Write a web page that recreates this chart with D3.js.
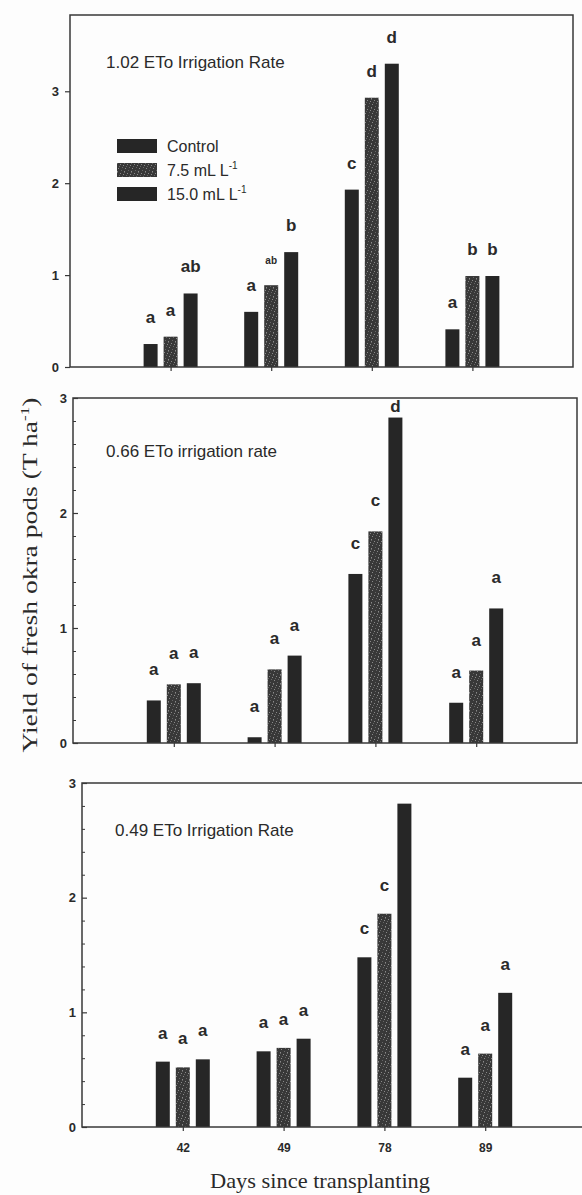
<!DOCTYPE html>
<html><head><meta charset="utf-8">
<script src="https://cdn.jsdelivr.net/npm/d3@7"></script>
<style>body{margin:0;background:#fdfdfd} svg{display:block}</style>
</head><body>
<script>
// ---------- data ----------
const days = ["42", "49", "78", "89"];
const series = ["Control", "7.5 mL L", "15.0 mL L"];
const seriesSup = ["", "-1", "-1"];
const panelTitles = ["1.02 ETo Irrigation Rate", "0.66 ETo irrigation rate", "0.49 ETo Irrigation Rate"];
const yTickValues = [0, 1, 2, 3];
const xTitle = "Days since transplanting";
const yTitle = "Yield of fresh okra pods (T ha";

// 1.02 ETo
const rate102Control = [0.25, 0.60, 1.93, 0.41];
const rate102Mid     = [0.33, 0.89, 2.93, 0.99];
const rate102High    = [0.80, 1.25, 3.30, 0.99];
const rate102Letters = [["a","a","ab"], ["a","ab","b"], ["c","d","d"], ["a","b","b"]];
// 0.66 ETo
const rate066Control = [0.37, 0.05, 1.47, 0.35];
const rate066Mid     = [0.51, 0.64, 1.84, 0.63];
const rate066High    = [0.52, 0.76, 2.83, 1.17];
const rate066Letters = [["a","a","a"], ["a","a","a"], ["c","c","d"], ["a","a","a"]];
// 0.49 ETo
const rate049Control = [0.57, 0.66, 1.48, 0.43];
const rate049Mid     = [0.52, 0.69, 1.86, 0.64];
const rate049High    = [0.59, 0.77, 2.82, 1.17];
const rate049Letters = [["a","a","a"], ["a","a","a"], ["c","c",""], ["a","a","a"]];

const panelValues = [
  [rate102Control, rate102Mid, rate102High],
  [rate066Control, rate066Mid, rate066High],
  [rate049Control, rate049Mid, rate049High]
];
const panelLetters = [rate102Letters, rate066Letters, rate049Letters];

// ---------- layout ----------
const W = 582, H = 1195;
const layout = [
  {left: 70, right: 573, top: 15,  bottom: 367,  yMax: 3.83, minor: false, letterOff: 21, titleX: 106, titleY: 68},
  {left: 73, right: 577, top: 398, bottom: 743,  yMax: 3,    minor: true,  letterOff: 25, titleX: 106, titleY: 457},
  {left: 82, right: 586, top: 783, bottom: 1127, yMax: 3,    minor: true,  letterOff: 23, titleX: 115, titleY: 836}
];
const sans = "'Liberation Sans', Arial, sans-serif";
const serif = "'Liberation Serif', 'Times New Roman', serif";
const ink = "#2a2a2a";
const barColor = "#262626";

const svg = d3.select("body").append("svg").attr("width", W).attr("height", H)
  .style("background", "#fdfdfd");

// stipple pattern for the 7.5 mL series
const defs = svg.append("defs");
const pat = defs.append("pattern").attr("id", "stipple")
  .attr("patternUnits", "userSpaceOnUse").attr("width", 7).attr("height", 9);
pat.append("rect").attr("width", 7).attr("height", 9).attr("fill", "#383838");
[[0,0],[3,1],[5,4],[1,5],[4,7],[6,2],[2,3],[0,8]].forEach(([x, y], i) => {
  pat.append("rect").attr("x", x).attr("y", y).attr("width", 1).attr("height", 1)
    .attr("fill", i % 2 ? "#8a8a8a" : "#666666");
});
const fills = [barColor, "url(#stipple)", barColor];

const inner = d3.scaleBand().domain(series).range([-27, 27]).paddingInner(0.3);

layout.forEach((L, pi) => {
  const g = svg.append("g");
  const x = d3.scalePoint().domain(days).range([L.left, L.right]).padding(1);
  const y = d3.scaleLinear().domain([0, L.yMax]).range([L.bottom, L.top]);

  // bars
  series.forEach((s, si) => {
    g.selectAll(null).data(panelValues[pi][si]).enter().append("rect")
      .attr("x", (d, i) => x(days[i]) + inner(s))
      .attr("y", d => y(d))
      .attr("width", inner.bandwidth())
      .attr("height", d => y(0) - y(d))
      .attr("fill", fills[si]);
  });

  // significance letters
  series.forEach((s, si) => {
    g.selectAll(null).data(panelLetters[pi]).enter().append("text")
      .attr("x", (d, i) => x(days[i]) + inner(s) + inner.bandwidth() / 2)
      .attr("y", (d, i) => Math.max(L.top + 14, y(panelValues[pi][si][i]) - L.letterOff))
      .attr("text-anchor", "middle")
      .attr("font-family", sans).attr("font-weight", "bold")
      .attr("font-size", (d, i) => (pi === 0 && i === 1 && si === 1) ? 10 : 17)
      .attr("fill", ink)
      .text(d => d[si]);
  });

  // frame
  g.append("rect").attr("x", L.left).attr("y", L.top)
    .attr("width", L.right - L.left).attr("height", L.bottom - L.top)
    .attr("fill", "none").attr("stroke", "#383838").attr("stroke-width", 1.5);

  // y axis
  const yAx = d3.axisLeft(y).tickValues(yTickValues).tickFormat(d3.format("d"))
    .tickSize(L.minor ? -5 : 5).tickPadding(6);
  const ya = g.append("g").attr("transform", `translate(${L.left},0)`).call(yAx);
  ya.select(".domain").remove();
  ya.selectAll("line").attr("stroke", "#383838").attr("stroke-width", 1.2);
  ya.selectAll("text").attr("font-family", sans).attr("font-weight", "bold")
    .attr("font-size", 13).attr("fill", ink);
  if (L.minor) {
    const minorVals = d3.range(1, 15).map(k => k * 0.2).filter(v => Math.abs(v - Math.round(v)) > 1e-6);
    const ym = g.append("g").attr("transform", `translate(${L.left},0)`)
      .call(d3.axisLeft(y).tickValues(minorVals).tickFormat("").tickSize(-3));
    ym.select(".domain").remove();
    ym.selectAll("line").attr("stroke", "#383838").attr("stroke-width", 1);
  }

  // x axis
  const xAx = d3.axisBottom(x).tickSize(4).tickPadding(12)
    .tickFormat(pi === 2 ? (d => d) : "");
  const xa = g.append("g").attr("transform", `translate(0,${L.bottom})`).call(xAx);
  xa.select(".domain").remove();
  xa.selectAll("line").attr("stroke", "#383838").attr("stroke-width", 1.2);
  xa.selectAll("text").attr("font-family", sans).attr("font-weight", "bold")
    .attr("font-size", 12).attr("fill", ink);

  // panel title
  g.append("text").attr("x", L.titleX).attr("y", L.titleY)
    .attr("font-family", sans).attr("font-size", 17).attr("fill", ink)
    .text(panelTitles[pi]);

  // legend in top panel
  if (pi === 0) {
    const lg = g.append("g").attr("transform", "translate(117,139)");
    series.forEach((s, si) => {
      const row = lg.append("g").attr("transform", `translate(0,${si * 24})`);
      row.append("rect").attr("width", 40).attr("height", 14).attr("fill", fills[si]);
      const t = row.append("text").attr("x", 50).attr("y", 13)
        .attr("font-family", sans).attr("font-size", 16).attr("fill", ink).text(s);
      if (seriesSup[si]) {
        t.append("tspan").attr("font-size", 10).attr("dy", -7).text(seriesSup[si]);
      }
    });
  }
});

// axis titles
svg.append("text").attr("x", 320).attr("y", 1188).attr("text-anchor", "middle")
  .attr("font-family", serif).attr("font-size", 22).attr("fill", ink)
  .attr("textLength", 220).attr("lengthAdjust", "spacingAndGlyphs")
  .text(xTitle);

const yt = svg.append("text").attr("transform", "translate(37,575) rotate(-90)")
  .attr("text-anchor", "middle").attr("font-family", serif).attr("font-size", 21)
  .attr("fill", ink).attr("textLength", 355).attr("lengthAdjust", "spacingAndGlyphs");
yt.append("tspan").text(yTitle);
yt.append("tspan").attr("font-size", 13).attr("dy", -8).text("-1");
yt.append("tspan").attr("dy", 8).text(")");
</script>
</body></html>
